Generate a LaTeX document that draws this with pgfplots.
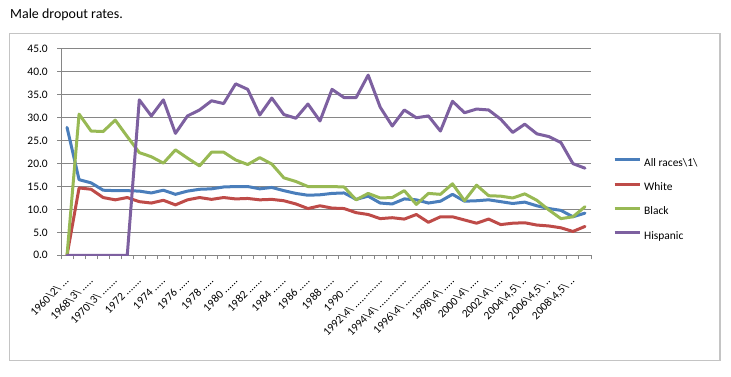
\documentclass[border=0pt]{standalone}
\usepackage{fontspec}
\setmainfont{Carlito}
\usepackage{pgfplots}
\usepackage{pgfplotstable}
\pgfplotsset{compat=1.18}
\definecolor{cBlue}{HTML}{4A7EBB}
\definecolor{cRed}{HTML}{BE4B48}
\definecolor{cGreen}{HTML}{98B954}
\definecolor{cPurple}{HTML}{7D60A0}
\definecolor{gridc}{HTML}{868686}
\definecolor{framec}{HTML}{C4C4C4}
\newcommand{\bs}{\textbackslash}
\newcommand{\pd}{\char46\relax}

\pgfplotstableread{
idx allr white black hisp
0  27.9 0.0  0.0  0.0
1  16.5 14.7 30.8 0.0
2  15.8 14.4 27.1 0.0
3  14.2 12.6 27.0 0.0
4  14.1 12.1 29.5 0.0
5  14.1 12.6 25.9 0.0
6  14.0 11.7 22.4 33.9
7  13.6 11.4 21.5 30.4
8  14.2 12.0 20.1 33.9
9  13.3 11.0 23.0 26.6
10 14.0 12.1 21.2 30.4
11 14.4 12.6 19.5 31.7
12 14.5 12.2 22.5 33.7
13 14.9 12.6 22.5 33.1
14 15.0 12.3 20.8 37.4
15 15.0 12.4 19.8 36.2
16 14.5 12.1 21.3 30.6
17 14.8 12.2 19.9 34.3
18 14.1 11.9 16.9 30.7
19 13.5 11.2 16.1 29.9
20 13.1 10.2 15.0 33.0
21 13.2 10.8 15.0 29.3
22 13.5 10.3 15.0 36.2
23 13.6 10.2 14.9 34.4
24 12.2 9.3  12.1 34.4
25 12.9 8.9  13.5 39.3
26 11.4 8.0  12.5 32.3
27 11.2 8.2  12.6 28.2
28 12.3 7.9  14.1 31.7
29 12.1 8.9  11.1 30.0
30 11.4 7.2  13.5 30.4
31 11.8 8.4  13.3 27.1
32 13.3 8.4  15.6 33.6
33 11.8 7.7  11.9 31.1
34 11.9 7.0  15.3 31.9
35 12.1 7.9  13.0 31.7
36 11.7 6.7  12.9 29.7
37 11.3 7.0  12.5 26.8
38 11.6 7.1  13.4 28.6
39 10.8 6.6  12.0 26.5
40 10.2 6.4  9.9  25.9
41 9.8  6.0  8.0  24.6
42 8.4  5.2  8.4  20.0
43 9.2  6.3  10.6 19.0
}\datatable

\begin{document}
\begin{tikzpicture}[x=1bp,y=1bp]
\path[use as bounding box] (0,0) rectangle (731,376);
\draw[framec, line width=1.5bp] (9.5,15.5) rectangle (720,342.5);
\node[anchor=base west, font=\fontsize{14}{16}\selectfont, inner sep=0pt] at (10,358) {Male dropout rates.};
\begin{axis}[
  at={(61bp,120.7bp)}, anchor=south west,
  scale only axis, width=530bp, height=206.3bp,
  xmin=-0.5, xmax=43.5, ymin=0, ymax=45,
  axis x line=bottom, axis y line=left,
  axis line style={-, draw=gridc, line width=1bp},
  ytick={0,5,...,45},
  minor ytick={0,5,...,45},
  xtick={0,2,...,42},
  minor xtick={-0.5,0.5,...,43.5},
  tick align=outside,
  major tick length=0bp, minor tick length=4bp,
  every tick/.style={draw=gridc, line width=1bp},
  ymajorgrids, major grid style={draw=gridc, line width=1bp},
  /pgf/number format/assume math mode=true,
  yticklabel={\pgfmathprintnumber[fixed,fixed zerofill,precision=1]{\tick}},
  yticklabel style={font=\fontsize{11.5}{13}\selectfont, inner sep=0pt, anchor=east, xshift=-13bp},
  xticklabel style={font=\fontsize{11.5}{13}\selectfont, inner sep=0pt, yshift=-23.5bp, rotate=45, anchor=east},
  xticklabels={{1960\bs2\bs\ \pd\pd\pd},{1968\bs3\bs\ \pd\pd\pd\pd\pd},{1970\bs3\bs\ \pd\pd\pd\pd\pd\pd\pd},{1972 \pd\pd\pd\pd\pd\pd\pd},{1974 \pd\pd\pd\pd\pd},{1976 \pd\pd\pd\pd\pd},{1978 \pd\pd\pd\pd\pd},{1980 \pd\pd\pd\pd\pd\pd},{1982 \pd\pd\pd\pd\pd\pd},{1984 \pd\pd\pd\pd\pd\pd},{1986 \pd\pd\pd\pd\pd},{1988 \pd\pd\pd\pd\pd},{1990 \pd\pd\pd\pd\pd\pd},{1992\bs4\bs\ \pd\pd\pd\pd\pd\pd\pd\pd\pd\pd\pd\pd\pd},{1994\bs4\bs\ \pd\pd\pd\pd\pd\pd\pd\pd\pd\pd\pd\pd\pd},{1996\bs4\bs\ \pd\pd\pd\pd\pd\pd\pd\pd\pd\pd\pd\pd},{1998\bs4\bs\ \pd\pd\pd\pd\pd},{2000\bs4\bs\ \pd\pd\pd\pd},{2002\bs4\bs\ \pd\pd\pd\pd},{2004\bs4,5\bs\ \pd\pd},{2006\bs4,5\bs\ \pd\pd},{2008\bs4,5\bs\ \pd\pd}},
  legend style={at={(axis description cs:1.0415,0.4748)}, anchor=north west, draw=none, fill=none, inner sep=0pt, row sep=13.6bp, column sep=3bp, font=\fontsize{11.5}{13}\selectfont, nodes={inner sep=0pt, text height=8.5bp, text depth=2.3bp}},
  legend cell align=left,
  legend image code/.code={\draw[#1, line cap=butt] (0bp,3.2bp) -- (25bp,3.2bp);},
  every axis plot/.append style={line width=3bp, line join=round, line cap=round, mark=none},
]
\addplot[cBlue] table[x=idx, y=allr] {\datatable};
\addlegendentry{All races\bs1\bs}
\addplot[cRed] table[x=idx, y=white] {\datatable};
\addlegendentry{White}
\addplot[cGreen] table[x=idx, y=black] {\datatable};
\addlegendentry{Black}
\addplot[cPurple] table[x=idx, y=hisp] {\datatable};
\addlegendentry{Hispanic}
\end{axis}
\end{tikzpicture}
\end{document}
